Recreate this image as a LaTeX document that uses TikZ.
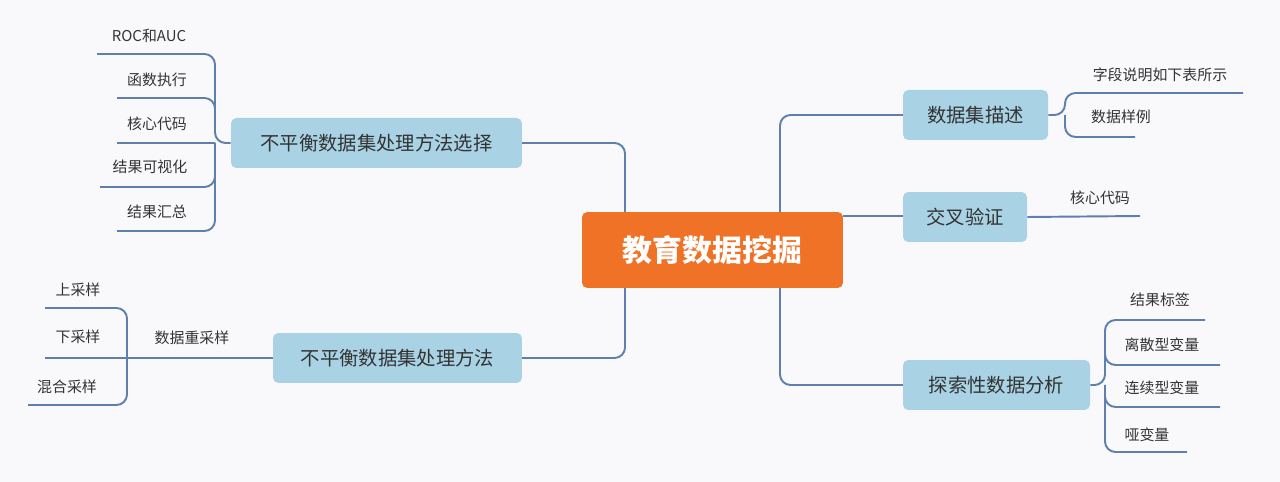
\documentclass[tikz,border=0pt]{standalone}
\usepackage{fontspec}
\setmainfont{Noto Sans CJK SC}
\usetikzlibrary{positioning}
\definecolor{rootc}{HTML}{F07226}
\definecolor{branchc}{HTML}{A9D3E5}
\definecolor{linec}{HTML}{5F7FAE}
\definecolor{bgc}{HTML}{F9F9FC}
\definecolor{textc}{HTML}{333333}

\tikzset{
  root/.style={fill=rootc,rounded corners=3pt,text=white,font=\fontsize{17}{17}\selectfont\bfseries,
    minimum width=5.22cm,minimum height=1.52cm,inner sep=0pt},
  branch/.style={fill=branchc,rounded corners=3pt,text=textc,font=\fontsize{11}{11}\selectfont,
    minimum height=1cm,inner sep=0pt},
  leaf/.style={text=textc,font=\fontsize{8.5}{8.5}\selectfont,inner sep=0pt},
  link/.style={draw=linec,line width=1.1pt,rounded corners=6pt}
}

\begin{document}
\begin{tikzpicture}[x=0.02cm,y=-0.02cm]
  \fill[bgc] (0,0) rectangle (1280,482);
  \useasboundingbox (0,0) rectangle (1280,482);

  % connectors from root
  \draw[link] (843,216) -- (903,216);
  \draw[link] (780,216) |- (903,115);
  \draw[link] (780,216) |- (903,385);
  \draw[link] (625,250) |- (522,143);
  \draw[link] (625,250) |- (522,358);

  % root and branches
  \node[root] (edm) at (712.5,250) {教育数据挖掘};
  \node[branch,minimum width=2.9cm] (desc) at (975.5,115) {数据集描述};
  \node[branch,minimum width=2.48cm] (cv) at (965,217) {交叉验证};
  \node[branch,minimum width=3.74cm] (eda) at (996.5,385) {探索性数据分析};
  \node[branch,minimum width=5.82cm] (sel) at (376.5,143) {不平衡数据集处理方法选择};
  \node[branch,minimum width=4.98cm] (imb) at (397.5,358) {不平衡数据集处理方法};

  % dataset description
  \coordinate (d1) at (1243,93);
  \coordinate (d2) at (1135,137);
  \draw[link] (desc.east) -- (1065,115) |- (d1);
  \draw[link] (1065,115) |- (d2);
  \node[leaf] (d1t) at (1160,75) {字段说明如下表所示};
  \node[leaf] (d2t) at (1121,117) {数据样例};

  % cross validation
  \coordinate (c1) at (1140,216);
  \draw[link] (cv.east) -- (c1);
  \node[leaf] (c1t) at (1100,198) {核心代码};

  % eda
  \coordinate (e1) at (1205,320);
  \coordinate (e2) at (1220,365);
  \coordinate (e3) at (1220,407);
  \coordinate (e4) at (1187,452);
  \draw[link] (eda.east) -- (1105,385) |- (e1);
  \draw[link] (1105,385) |- (e4);
  \draw[link] (1105,340) |- (e2);
  \draw[link] (1105,390) |- (e3);
  \node[leaf] (e1t) at (1160,300) {结果标签};
  \node[leaf] (e2t) at (1162,345) {离散型变量};
  \node[leaf] (e3t) at (1162,388) {连续型变量};
  \node[leaf] (e4t) at (1147,435) {哑变量};

  % method selection
  \coordinate (s1) at (97,54);
  \coordinate (s2) at (117,98);
  \coordinate (s3) at (117,143);
  \coordinate (s4) at (100,187);
  \coordinate (s5) at (117,231);
  \draw[link] (sel.west) -- (215,143) |- (s1);
  \draw[link] (215,143) |- (s5);
  \draw[link] (215,120) |- (s2);
  \draw[link] (215,143) -- (s3);
  \draw[link] (215,165) |- (s4);
  \node[leaf] (s1t) at (149,36) {ROC和AUC};
  \node[leaf] (s2t) at (157,80) {函数执行};
  \node[leaf] (s3t) at (157,124) {核心代码};
  \node[leaf] (s4t) at (150,167) {结果可视化};
  \node[leaf] (s5t) at (157,212) {结果汇总};

  % resampling
  \coordinate (m1) at (45,308);
  \coordinate (m2) at (45,358);
  \coordinate (m3) at (28,405);
  \draw[link] (imb.west) -- (m2);
  \draw[link] (127,358) |- (m1);
  \draw[link] (127,358) |- (m3);
  \node[leaf] (mt) at (192,338) {数据重采样};
  \node[leaf] (m1t) at (78,290) {上采样};
  \node[leaf] (m2t) at (78,337) {下采样};
  \node[leaf] (m3t) at (67,387) {混合采样};
\end{tikzpicture}
\end{document}
